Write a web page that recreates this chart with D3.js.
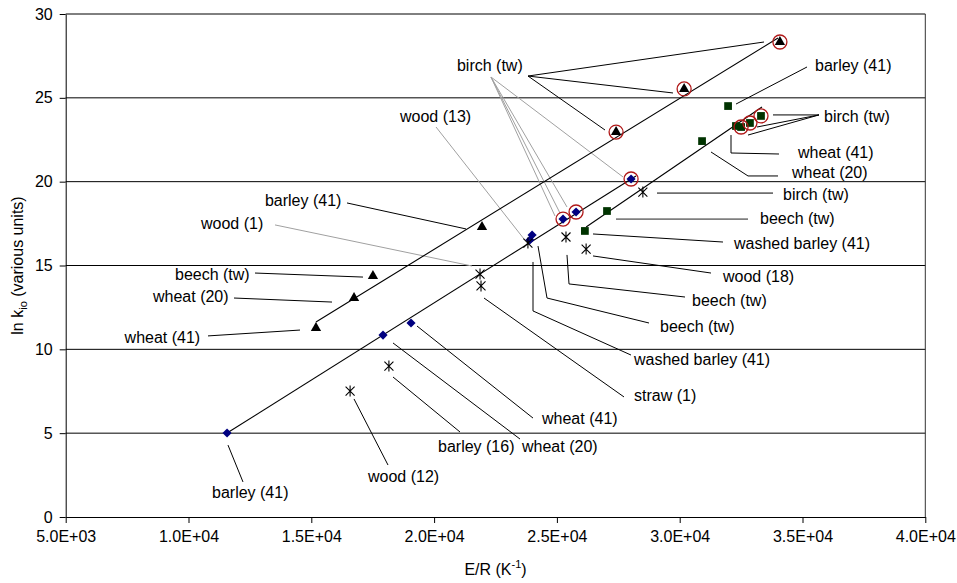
<!DOCTYPE html>
<html>
<head>
<meta charset="utf-8">
<script src="https://cdn.jsdelivr.net/npm/d3@7"></script>
<style>
  html, body { margin: 0; padding: 0; background: #fff; }
  svg { display: block; }
  text { font-family: "Liberation Sans", Arial, sans-serif; font-size: 16px; fill: #000; }
</style>
</head>
<body>
<svg id="chart" width="957" height="583"></svg>
<script>
// Axis ticks
const xTicks = [5000, 10000, 15000, 20000, 25000, 30000, 35000, 40000];
const yTicks = [0, 5, 10, 15, 20, 25, 30];

// Series: [E/R, ln k_io]
const triangleSeries = [[15190, 11.27], [16740, 13.06], [17510, 14.37], [21950, 17.30], [27410, 22.96], [30180, 25.53], [34080, 28.33]];
const diamondSeries  = [[11570, 5.01], [17920, 10.85], [19060, 11.57], [23900, 16.52], [23990, 16.82], [25250, 17.77], [25780, 18.19], [28020, 20.16]];
const starSeries     = [[16580, 7.51], [18160, 9.00], [21870, 14.49], [21910, 13.78], [23820, 16.34], [25370, 16.70], [26190, 15.98], [28500, 19.38]];
const squareSeries   = [[26140, 17.06], [27040, 18.25], [30910, 22.42], [31970, 24.51], [32290, 23.32], [32500, 23.26], [32860, 23.50], [33310, 23.92]];

// Points ringed (birch, tw) — indices into the series above
const ringedTriangle = [4, 5, 6];
const ringedDiamond  = [5, 6, 7];
const ringedSquare   = [5, 6, 7];

// Trend lines (end points)
const triangleFit = [[15190, 11.63], [34000, 28.57]];
const diamondFit  = [[11570, 5.01], [28220, 20.34]];
const squareFit   = [[26190, 17.30], [33350, 24.45]];

// Point labels: text and start position (data units)
const labels = [
  ["birch (tw)", 20930, 26.95],
  ["wood (13)", 18610, 23.92],
  ["barley (41)", 13110, 18.91],
  ["wood (1)", 10510, 17.53],
  ["beech (tw)", 9450, 14.49],
  ["wheat (20)", 8555, 13.18],
  ["wheat (41)", 7398, 10.74],
  ["barley (41)", 10957, 1.45],
  ["wood (12)", 17309, 2.40],
  ["barley (16)", 20159, 4.19],
  ["wheat (20)", 23580, 4.19],
  ["wheat (41)", 24394, 5.90],
  ["straw (1)", 28140, 7.28],
  ["washed barley (41)", 28140, 9.42],
  ["beech (tw)", 29198, 11.39],
  ["beech (tw)", 30502, 12.94],
  ["wood (18)", 31764, 14.37],
  ["washed barley (41)", 32211, 16.34],
  ["beech (tw)", 33270, 17.83],
  ["birch (tw)", 34206, 19.23],
  ["wheat (20)", 34572, 20.58],
  ["wheat (41)", 34817, 21.77],
  ["birch (tw)", 35876, 23.92],
  ["barley (41)", 35510, 26.96]
];

// Leader lines: tone and vertices (data units)
const leaders = [
  ["dark",  [[23824, 26.30], [33433, 28.33]]],
  ["dark",  [[23824, 26.30], [29727, 25.29]]],
  ["dark",  [[23824, 26.30], [26959, 23.08]]],
  ["light", [[22317, 26.24], [27692, 20.28]]],
  ["light", [[22317, 26.24], [25126, 18.13]]],
  ["light", [[22317, 26.24], [25411, 18.49]]],
  ["light", [[22317, 26.24], [24923, 17.95]]],
  ["light", [[20078, 23.26], [23661, 16.58]]],
  ["dark",  [[16454, 18.73], [21299, 17.18]]],
  ["light", [[13522, 17.42], [21543, 14.97]]],
  ["dark",  [[12708, 14.55], [17105, 14.31]]],
  ["dark",  [[11853, 13.06], [15843, 12.82]]],
  ["dark",  [[10794, 10.80], [14540, 11.15]]],
  ["dark",  [[11608, 4.29], [12219, 2.09]]],
  ["dark",  [[16739, 7.04], [18123, 3.10]]],
  ["dark",  [[18327, 8.35], [21055, 5.07]]],
  ["dark",  [[18327, 10.38], [23498, 4.65]]],
  ["dark",  [[19304, 11.39], [24027, 5.90]]],
  ["dark",  [[22032, 13.06], [27732, 7.16]]],
  ["dark",  [[24027, 15.21], [24027, 12.29], [28017, 9.66]]],
  ["dark",  [[24231, 16.16], [24597, 13.06], [28750, 11.57]]],
  ["dark",  [[25411, 15.63], [25493, 13.90], [30216, 13.12]]],
  ["dark",  [[26470, 15.57], [31275, 14.55]]],
  ["dark",  [[26470, 16.88], [31763, 16.40]]],
  ["mid",   [[27407, 17.77], [32781, 17.77]]],
  ["dark",  [[29076, 19.32], [33799, 19.32]]],
  ["dark",  [[31275, 21.77], [32781, 20.34], [34003, 20.34]]],
  ["dark",  [[32089, 22.78], [32089, 21.71], [34043, 21.65]]],
  ["dark",  [[35672, 23.98], [33799, 23.98]]],
  ["dark",  [[35672, 23.98], [33148, 23.26]]],
  ["dark",  [[35672, 23.98], [32781, 22.78]]],
  ["dark",  [[35184, 26.84], [32293, 24.63]]]
];

const svg = d3.select("#chart");
const plot = { left: 65.7, right: 925.3, top: 14, bottom: 517 };

const x = d3.scaleLinear().domain([5000, 40000]).range([plot.left, plot.right]);
const y = d3.scaleLinear().domain([0, 30]).range([plot.bottom, plot.top]);

const sciFormat = v => {
  const e = Math.floor(Math.log10(v));
  const m = v / Math.pow(10, e);
  return m.toFixed(1) + "E+" + String(e).padStart(2, "0");
};

// Horizontal gridlines
svg.append("g")
  .selectAll("line")
  .data(yTicks.filter(t => t > 0))
  .join("line")
  .attr("x1", plot.left).attr("x2", plot.right)
  .attr("y1", d => y(d)).attr("y2", d => y(d))
  .attr("stroke", "#000").attr("stroke-width", 1);

// Right edge of plot area
svg.append("line")
  .attr("x1", plot.right).attr("x2", plot.right)
  .attr("y1", plot.top).attr("y2", plot.bottom)
  .attr("stroke", "#333").attr("stroke-width", 1);

// Axes
const xAxis = svg.append("g")
  .attr("transform", `translate(0,${plot.bottom})`)
  .call(d3.axisBottom(x).tickValues(xTicks).tickFormat(sciFormat).tickSizeInner(6).tickSizeOuter(0).tickPadding(8));
const yAxis = svg.append("g")
  .attr("transform", `translate(${plot.left},0)`)
  .call(d3.axisLeft(y).tickValues(yTicks).tickSizeInner(6).tickSizeOuter(0).tickPadding(7));
[xAxis, yAxis].forEach(g => {
  g.selectAll("path, line").attr("stroke", "#000");
  g.selectAll("text").attr("font-size", 16).attr("font-family", '"Liberation Sans", Arial, sans-serif').attr("fill", "#000");
});

// Axis titles
const xTitle = svg.append("text")
  .attr("x", x(22500)).attr("y", 575)
  .attr("text-anchor", "middle");
xTitle.append("tspan").text("E/R (K");
xTitle.append("tspan").attr("font-size", 11).attr("dy", -7).text("-1");
xTitle.append("tspan").attr("dy", 7).text(")");

const yTitle = svg.append("text")
  .attr("transform", `translate(23,${y(15)}) rotate(-90)`)
  .attr("text-anchor", "middle");
yTitle.append("tspan").text("ln k");
yTitle.append("tspan").attr("font-size", 11).attr("dy", 4).text("io");
yTitle.append("tspan").attr("dy", -4).text(" (various units)");

// Leader lines
const lineGen = d3.line().x(d => x(d[0])).y(d => y(d[1]));
const toneStroke = { dark: "#000", light: "#a0a0a0", mid: "#7f7f7f" };
const toneWidth = { dark: 1, light: 1, mid: 1.8 };
svg.append("g")
  .selectAll("path")
  .data(leaders)
  .join("path")
  .attr("d", d => lineGen(d[1]))
  .attr("fill", "none")
  .attr("stroke", d => toneStroke[d[0]])
  .attr("stroke-width", d => toneWidth[d[0]]);

// Trend lines
svg.append("g")
  .selectAll("path")
  .data([triangleFit, diamondFit, squareFit])
  .join("path")
  .attr("d", d => lineGen(d))
  .attr("fill", "none")
  .attr("stroke", "#000")
  .attr("stroke-width", 1.1);

// Markers
const markers = svg.append("g");
markers.selectAll(".tri")
  .data(triangleSeries)
  .join("path")
  .attr("class", "tri")
  .attr("transform", d => `translate(${x(d[0])},${y(d[1])})`)
  .attr("d", d3.symbol(d3.symbolTriangle, 46))
  .attr("fill", "#000");

markers.selectAll(".dia")
  .data(diamondSeries)
  .join("path")
  .attr("class", "dia")
  .attr("transform", d => `translate(${x(d[0])},${y(d[1])}) rotate(45)`)
  .attr("d", d3.symbol(d3.symbolSquare, 42))
  .attr("fill", "#000080");

markers.selectAll(".sq")
  .data(squareSeries)
  .join("path")
  .attr("class", "sq")
  .attr("transform", d => `translate(${x(d[0])},${y(d[1])})`)
  .attr("d", d3.symbol(d3.symbolSquare, 60))
  .attr("fill", "#003300");

const starPath = "M-4.5,-4.5L4.5,4.5M-4.5,4.5L4.5,-4.5M0,-5.5L0,5.5";
markers.selectAll(".star")
  .data(starSeries)
  .join("path")
  .attr("class", "star")
  .attr("transform", d => `translate(${x(d[0])},${y(d[1])})`)
  .attr("d", starPath)
  .attr("fill", "none")
  .attr("stroke", "#000")
  .attr("stroke-width", 1.1);

// Rings around birch points
const ringed = [
  ...ringedTriangle.map(i => triangleSeries[i]),
  ...ringedDiamond.map(i => diamondSeries[i]),
  ...ringedSquare.map(i => squareSeries[i])
];
markers.selectAll(".ring")
  .data(ringed)
  .join("circle")
  .attr("class", "ring")
  .attr("cx", d => x(d[0]))
  .attr("cy", d => y(d[1]))
  .attr("r", 7)
  .attr("fill", "none")
  .attr("stroke", "#b01818")
  .attr("stroke-width", 1.3);

// Labels
svg.append("g")
  .selectAll("text")
  .data(labels)
  .join("text")
  .attr("x", d => x(d[1]))
  .attr("y", d => y(d[2]))
  .attr("dy", "0.35em")
  .text(d => d[0]);
</script>
</body>
</html>
